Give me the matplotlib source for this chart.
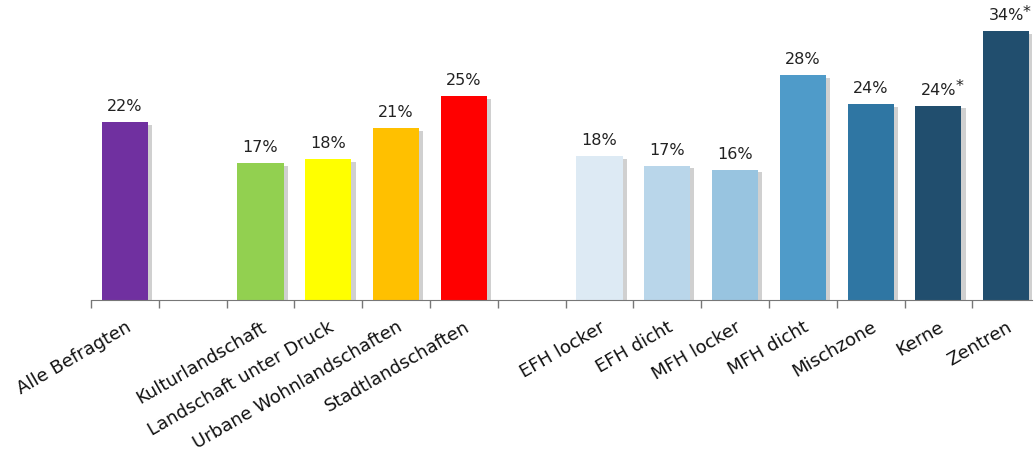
import numpy as np
import matplotlib
matplotlib.use('Agg')
import matplotlib.pyplot as plt
import matplotlib.patheffects as pe

# Kategorien (None = Luecke zwischen den Gruppen)
categories = ['Alle Befragten', None,
              'Kulturlandschaft', 'Landschaft unter Druck',
              'Urbane Wohnlandschaften', 'Stadtlandschaften', None,
              'EFH locker', 'EFH dicht', 'MFH locker', 'MFH dicht',
              'Mischzone', 'Kerne', 'Zentren']
values = [22.2, None, 17.1, 17.6, 21.5, 25.5, None,
          18.0, 16.8, 16.3, 28.1, 24.5, 24.3, 33.6]
value_labels = ['22%', None, '17%', '18%', '21%', '25%', None,
                '18%', '17%', '16%', '28%', '24%', '24%*', '34%*']
colors = ['#7030A0', None, '#92D050', '#FFFF00', '#FFC000', '#FF0000', None,
          '#DDEAF4', '#B9D6EA', '#98C4E0', '#4F9BC9', '#2F76A3', '#214E6E', '#214E6E']

fig = plt.figure(figsize=(10.35, 4.54), dpi=100)
ax = fig.add_axes([91 / 1035, 154 / 454, 941 / 1035, 300 / 454])

shadow = [pe.SimplePatchShadow(offset=(3, -2), shadow_rgbFace='#666666', alpha=0.3), pe.Normal()]

for i, (cat, v, lab, c) in enumerate(zip(categories, values, value_labels, colors)):
    if v is None:
        continue
    ax.bar(i, v, width=0.68, color=c, edgecolor='none', path_effects=shadow, zorder=2)
    if lab.endswith('*'):
        ax.text(i, v + 1.0, lab[:-1], ha='center', va='bottom', fontsize=11.5, color='#222222')
        ax.annotate('*', xy=(i, v + 1.0), xytext=(12, 2.5), textcoords='offset points',
                    ha='left', va='bottom', fontsize=11.5, color='#222222')
    else:
        ax.text(i, v + 1.0, lab, ha='center', va='bottom', fontsize=11.5, color='#222222')

ax.set_xlim(-0.5, 13.38)
ax.set_ylim(0, 37.5)

pos = [i for i, c in enumerate(categories) if c is not None]
ax.set_xticks(pos)
ax.set_xticklabels([c for c in categories if c is not None], rotation=30,
                   ha='right', rotation_mode='anchor', fontsize=13, color='#111111')
ax.tick_params(axis='x', length=0, pad=13)
ax.set_xticks(np.arange(-0.5, 13, 1), minor=True)
ax.tick_params(axis='x', which='minor', length=6, color='#777777', width=1)

ax.set_yticks([])
for s in ['top', 'right', 'left']:
    ax.spines[s].set_visible(False)
ax.spines['bottom'].set_color('#777777')

fig.savefig('out.png', dpi=100)
